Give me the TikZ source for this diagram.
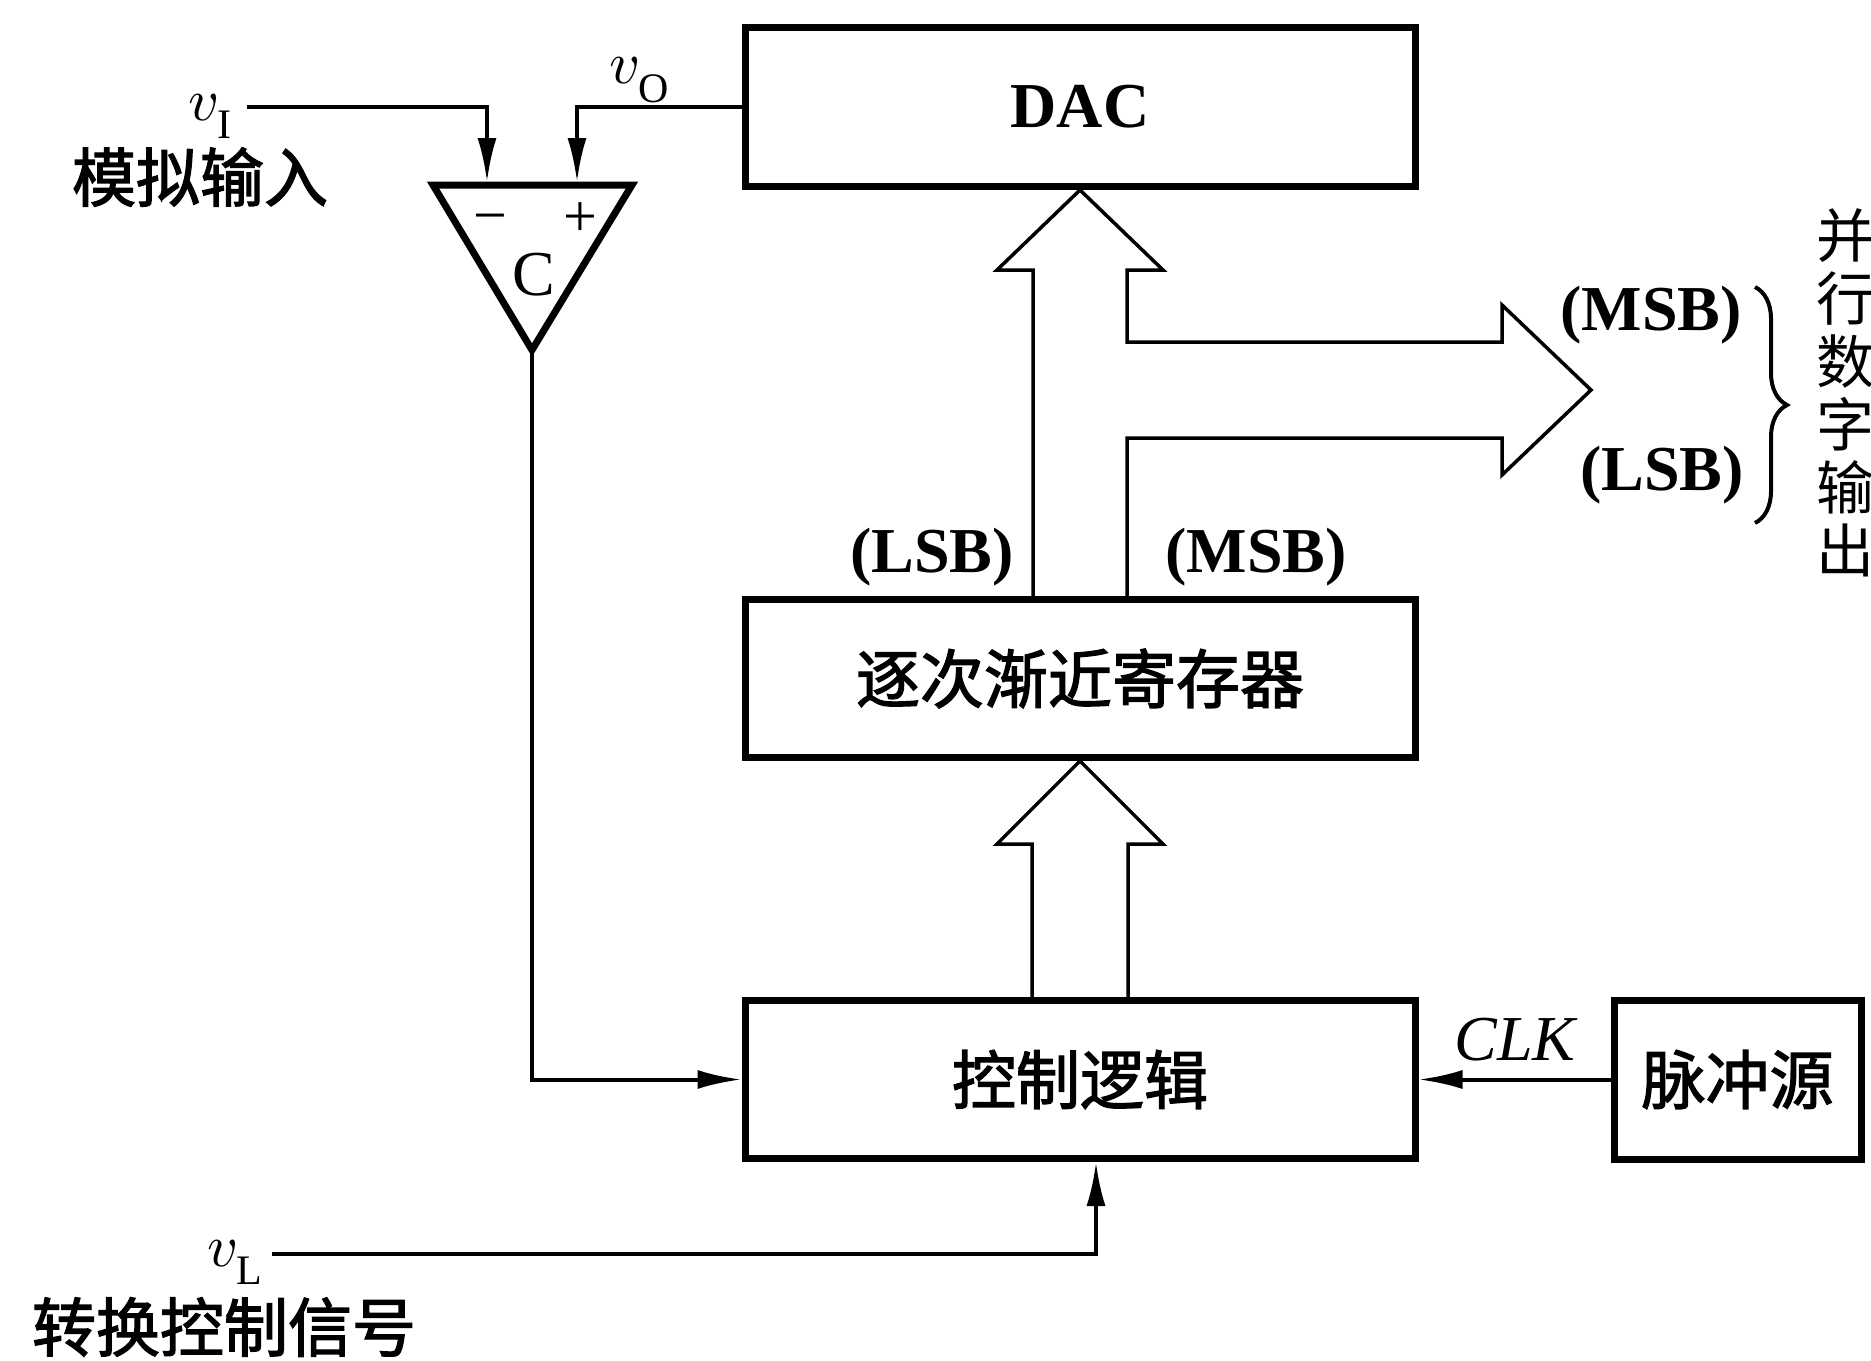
\documentclass[tikz,border=0pt]{standalone}
\usepackage{fontspec}
\setmainfont{Liberation Serif}
\newfontfamily\cjk{Noto Sans CJK SC}[FakeBold=2]
\newfontfamily\cjklight{Noto Sans CJK SC}
\DeclareFontShape{OML}{cmm}{m}{it}{<->cmmi10}{}
\DeclareFontShape{OT1}{cmr}{m}{n}{<->cmr10}{}
\usetikzlibrary{arrows.meta,positioning,calc,decorations.pathreplacing}
\newcommand{\hz}{\cjk\fontsize{64}{66}\selectfont}
\newcommand{\latin}{\fontsize{64}{66}\selectfont}

\begin{document}
\begin{tikzpicture}[
  x=1pt,y=-1pt,
  blk/.style={draw,line width=7pt,minimum width=670pt,minimum height=158pt,font=\hz},
  sig/.style={line width=4pt,-{Latex[length=44pt,width=19pt]}},
  bus/.style={line width=3.5pt},
  tri/.style={line width=7pt},
  lbl/.style={font=\latin\bfseries},
  hanzi/.style={font=\hz},
  sym/.style={font=\fontsize{60}{62}\selectfont}
]
\useasboundingbox[fill=white] (0,0) rectangle (1871,1360);

\node[blk,minimum height=159pt,font=\latin\bfseries] (dac) at (1080,107) {DAC};
\node[blk,below=406pt of dac] (sar) {逐次渐近寄存器};
\node[blk,below=236pt of sar] (ctrl) {控制逻辑};
\node[blk,minimum width=247pt,minimum height=159pt,right=192pt of ctrl] (pulse) {脉冲源};

\coordinate (cmpa) at (433,185);
\coordinate (cmpb) at (632,185);
\coordinate (cmpo) at (532,350);
\draw[tri] (cmpa) -- (cmpb) -- (cmpo) -- cycle;
\node[font=\fontsize{60}{62}\selectfont] (minus) at (490,225) {−};
\node[font=\fontsize{60}{62}\selectfont] (plus) at (580,220) {+};
\node[font=\latin] (cmp) at (534,275) {C};

\coordinate (inm) at (487,182);
\coordinate (inp) at (577,182);
\coordinate (vin) at (247,107);
\coordinate (vlin) at (272,1254);
\coordinate (dout) at (1591,390);

\draw[sig] (vin) -| (inm);
\draw[sig] (dac.west) -| (inp);
\draw[sig] (cmpo) |- (ctrl.west);
\draw[sig] (vlin) -| ($(ctrl.south)+(16,0)$);
\draw[sig] (pulse.west) -- (ctrl.east);

\draw[bus] ($(sar.north)+(-47,0)$) |- ($(dac.south)+(-83,80)$) -- (dac.south)
  -- ($(dac.south)+(83,80)$) -- ($(dac.south)+(47,80)$) |- ($(dout)+(-89,-48)$)
  -- ($(dout)+(-89,-85)$) -- (dout) -- ($(dout)+(-89,85)$) -- ($(dout)+(-89,48)$)
  -| ($(sar.north)+(47,0)$);
\draw[bus] ($(ctrl.north)+(-48,0)$) |- ($(sar.south)+(-83,83)$) -- (sar.south)
  -- ($(sar.south)+(83,83)$) -| ($(ctrl.north)+(48,0)$);

\node[sym,anchor=base east] (vi) at (236,120) {$v_{\mathrm{I}}$};
\node[hanzi] (ain) at (200,177) {模拟输入};
\node[sym,anchor=base west] (vo) at (606,83) {$v_{\mathrm{O}}$};
\node[sym,anchor=base east] (vl) at (266,1266) {$v_{\mathrm{L}}$};
\node[hanzi] (conv) at (224,1327) {转换控制信号};
\node[font=\latin\itshape] (clk) at (1515,1040) {CLK};

\node[lbl] (lsbl) at (932,557) {(LSB)};
\node[lbl] (msbl) at (1256,557) {(MSB)};
\node[lbl] (msbr) at (1651,315) {(MSB)};
\node[lbl] (lsbr) at (1662,475) {(LSB)};

\coordinate (brt) at (1755,287);
\coordinate (brb) at (1755,523);
\draw[line width=4pt,decorate,decoration={brace,amplitude=32pt}] (brt) -- (brb);
\node[align=center,font=\cjklight\fontsize{58}{63}\selectfont] (par) at (1845,393) {并\\行\\数\\字\\输\\出};
\end{tikzpicture}
\end{document}
